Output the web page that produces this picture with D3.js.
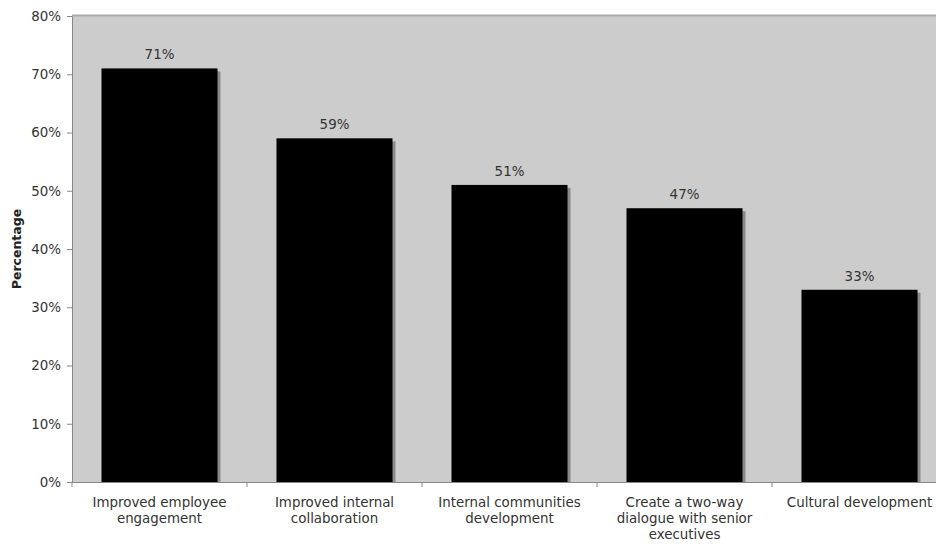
<!DOCTYPE html>
<html>
<head>
<meta charset="utf-8">
<script src="https://cdn.jsdelivr.net/npm/d3@7"></script>
<style>
  body { margin: 0; background: #fff; }
  svg { display: block; font-family: "DejaVu Sans", Verdana, sans-serif; }
</style>
</head>
<body>
<svg width="936" height="544"></svg>
<script>
var categories = [
  ["Improved employee", "engagement"],
  ["Improved internal", "collaboration"],
  ["Internal communities", "development"],
  ["Create a two-way", "dialogue with senior", "executives"],
  ["Cultural development"]
];
var values = [71, 59, 51, 47, 33];
var yTicks = [0, 10, 20, 30, 40, 50, 60, 70, 80];

(function () {
  var svg = d3.select("svg");
  var left = 72, plotTop = 16, bottom = 482, bandW = 175;
  var right = left + bandW * categories.length;

  var x = d3.scaleBand()
    .domain(d3.range(categories.length))
    .range([left, right])
    .paddingInner(0.337)
    .paddingOuter(0.1685);
  var y = d3.scaleLinear().domain([0, 80]).range([bottom, plotTop]);

  // plot background
  svg.append("rect")
    .attr("x", left).attr("y", plotTop)
    .attr("width", right - left).attr("height", bottom - plotTop)
    .attr("fill", "#cccccc");
  svg.append("line")
    .attr("x1", left).attr("x2", right)
    .attr("y1", plotTop - 0.5).attr("y2", plotTop - 0.5)
    .attr("stroke", "#a9a9a9").attr("stroke-width", 2);

  // shadows then bars
  svg.selectAll("rect.shadow")
    .data(values)
    .enter().append("rect")
    .attr("class", "shadow")
    .attr("x", function (d, i) { return x(i) + 3; })
    .attr("y", function (d) { return y(d) + 3; })
    .attr("width", x.bandwidth())
    .attr("height", function (d) { return bottom - y(d) - 3; })
    .attr("fill", "#8a8a8a");

  svg.selectAll("rect.bar")
    .data(values)
    .enter().append("rect")
    .attr("class", "bar")
    .attr("x", function (d, i) { return x(i); })
    .attr("y", function (d) { return y(d); })
    .attr("width", x.bandwidth())
    .attr("height", function (d) { return bottom - y(d); })
    .attr("fill", "#000");

  // value labels
  svg.selectAll("text.val")
    .data(values)
    .enter().append("text")
    .attr("class", "val")
    .attr("x", function (d, i) { return x(i) + x.bandwidth() / 2; })
    .attr("y", function (d) { return y(d) - 9; })
    .attr("text-anchor", "middle")
    .attr("font-size", 13.4)
    .attr("fill", "#333")
    .text(function (d) { return d + "%"; });

  // y axis
  var yAxis = d3.axisLeft(y)
    .tickValues(yTicks)
    .tickSize(5)
    .tickPadding(6)
    .tickFormat(function (d) { return d + "%"; });
  var ya = svg.append("g").attr("transform", "translate(" + left + ",0)").call(yAxis);
  ya.select(".domain").attr("stroke", "#888");
  ya.selectAll(".tick line").attr("stroke", "#888");
  ya.selectAll(".tick text").attr("font-size", 13.4).attr("fill", "#333")
    .attr("font-family", "DejaVu Sans, Verdana, sans-serif");

  // x axis
  svg.append("line")
    .attr("x1", left).attr("x2", right)
    .attr("y1", bottom + 0.5).attr("y2", bottom + 0.5)
    .attr("stroke", "#888");
  svg.selectAll("line.xtick")
    .data(d3.range(categories.length + 1))
    .enter().append("line")
    .attr("class", "xtick")
    .attr("x1", function (d) { return left + d * bandW; })
    .attr("x2", function (d) { return left + d * bandW; })
    .attr("y1", bottom).attr("y2", bottom + 5)
    .attr("stroke", "#888");

  var labels = svg.selectAll("text.cat")
    .data(categories)
    .enter().append("text")
    .attr("class", "cat")
    .attr("text-anchor", "middle")
    .attr("font-size", 13.4)
    .attr("fill", "#333");
  labels.selectAll("tspan")
    .data(function (d, i) { return d.map(function (s) { return { s: s, i: i }; }); })
    .enter().append("tspan")
    .attr("x", function (d) { return x(d.i) + x.bandwidth() / 2; })
    .attr("y", function (d, j) { return 507 + j * 16; })
    .text(function (d) { return d.s; });

  // axis title
  svg.append("text")
    .attr("transform", "translate(21," + ((plotTop + bottom) / 2) + ") rotate(-90)")
    .attr("text-anchor", "middle")
    .attr("font-size", 12.5)
    .attr("font-weight", "bold")
    .attr("fill", "#222")
    .text("Percentage");
})();
</script>
</body>
</html>
